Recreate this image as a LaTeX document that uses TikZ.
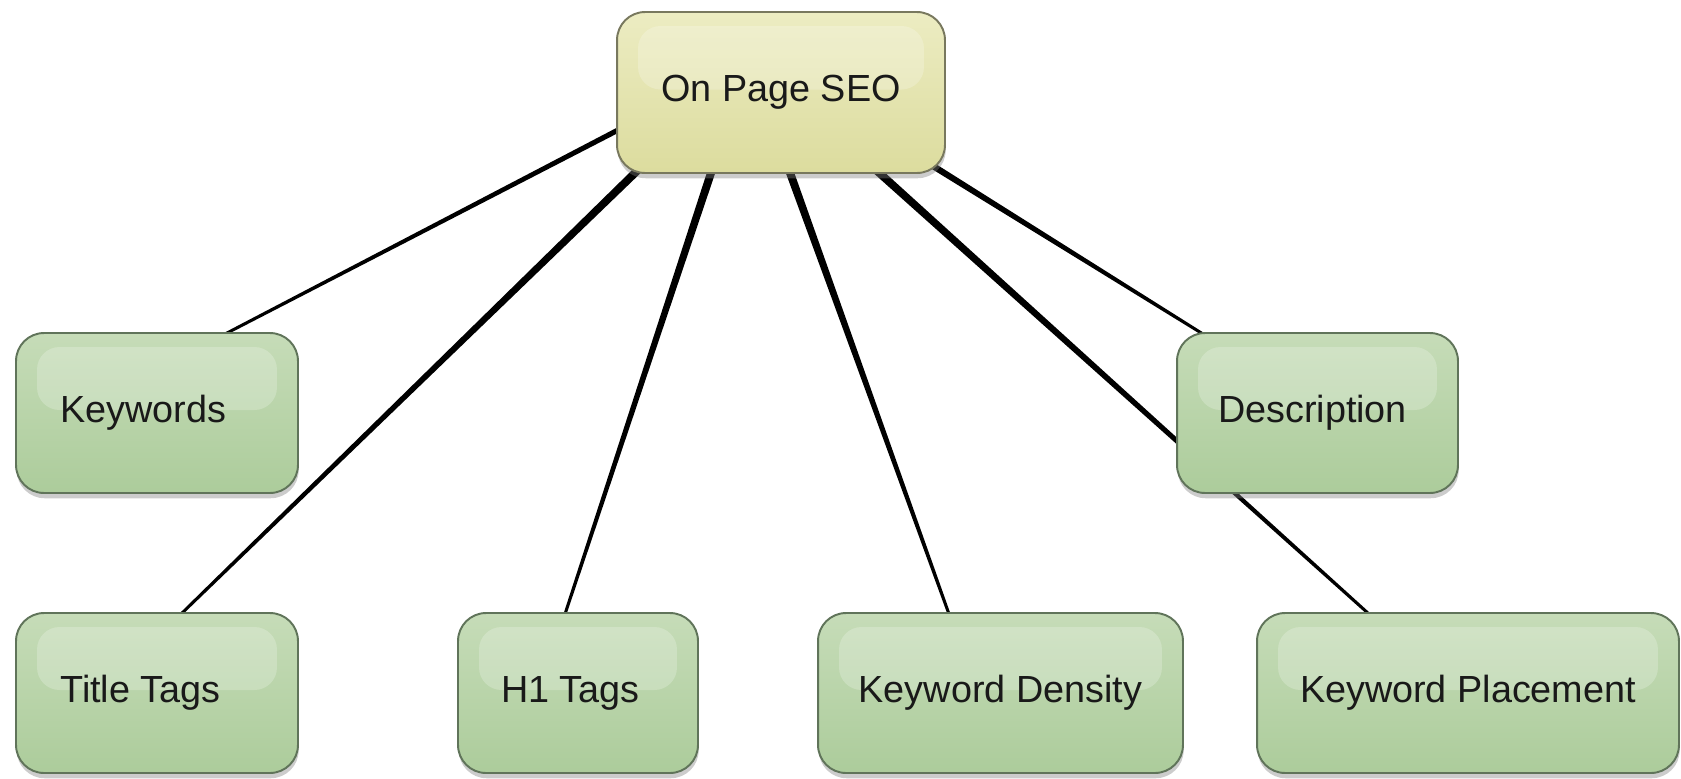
\documentclass[tikz,border=0pt]{standalone}
\usepackage{fontspec}
\setmainfont{Liberation Sans}
\usetikzlibrary{calc}
\usetikzlibrary{shadows}
\usetikzlibrary{backgrounds}
\definecolor{c1}{RGB}{96,116,90}
\definecolor{c2}{RGB}{198,220,184}
\definecolor{c3}{RGB}{172,204,155}
\definecolor{c4}{RGB}{236,236,194}
\definecolor{c5}{RGB}{220,220,158}
\definecolor{c6}{RGB}{120,120,94}

% tapered branch: thick at the main topic, thin at the sub topic
\newcommand{\branchline}[3][2.3pt]{%
  \fill[black] ($(#2)!#1!90:(#3)$) -- ($(#3)!0.85pt!-90:(#2)$)
    -- ($(#3)!0.85pt!90:(#2)$) -- ($(#2)!#1!-90:(#3)$) -- cycle;}
% trailing room so the text sits a little left of centre
\newcommand{\padr}[1]{\hspace{#1}\null}

\tikzset{
  topic/.style={draw=c1, line width=1.1pt, rounded corners=0.56cm, top color=c2, bottom color=c3,
    minimum height=3.2cm, inner sep=0pt, text=black!90,
    font=\fontsize{21.5}{25}\selectfont,
    drop shadow={shadow xshift=0.4pt, shadow yshift=-3pt, opacity=0.4},
    path picture={\fill[white, opacity=0.22, rounded corners=0.45cm]
      ($(path picture bounding box.north west)+(21,14)$) rectangle
      ($(path picture bounding box.east)+(-21,-3)$);}},
  central/.style={topic, draw=c6, top color=c4, bottom color=c5, minimum height=3.22cm}
}

\begin{document}
\begin{tikzpicture}[x=0.02cm,y=-0.02cm]
    \useasboundingbox (0,0) rectangle (1681,778);
    % main topic
    \node[central, minimum width=6.56cm] (seo) at (781,92.5) {On Page SEO};
    % first row
    \node[topic, minimum width=5.64cm] (kw) at (157,413) {Keywords\padr{0.56cm}};
    \node[topic, minimum width=5.62cm] (desc) at (1317.5,413) {Description\padr{0.2cm}};
    % second row
    \node[topic, minimum width=5.64cm] (title) at (157,693) {Title Tags\padr{0.66cm}};
    \node[topic, minimum width=4.8cm] (h1) at (578,693) {H1 Tags\padr{0.3cm}};
    \node[topic, minimum width=7.3cm] (kd) at (1000.5,693) {Keyword Density};
    \node[topic, minimum width=8.44cm] (kp) at (1468,693) {Keyword Placement};

    % where the branches leave the main topic
    \coordinate (s1) at ($(seo.west)+(4,36.5)$);
    \coordinate (s2) at ($(seo.south west)+(22,-4)$);
    \coordinate (s3) at ($(seo.south)+(-69,-4)$);
    \coordinate (s4) at ($(seo.south)+(8,-4)$);
    \coordinate (s5) at ($(seo.south)+(95,-4)$);
    \coordinate (s6) at ($(seo.south east)+(-13,-8)$);
    % and where they end
    \coordinate (e1) at ($(kw.north)+(68,2)$);
    \coordinate (e2) at ($(title.north)+(24,2)$);
    \coordinate (e3) at ($(h1.north)+(-13,2)$);
    \coordinate (e4) at ($(kd.north)+(-51.5,2)$);
    \coordinate (e5) at ($(kp.north)+(-99,2)$);
    \coordinate (e6) at ($(desc.north)+(-114.5,2)$);

    % branches go under the boxes (the one to kp passes behind desc)
    \begin{scope}[on background layer]
        \branchline[1.5pt]{s1}{e1}
        \branchline{s2}{e2}
        \branchline{s3}{e3}
        \branchline{s4}{e4}
        \branchline{s5}{e5}
        \branchline[1.8pt]{s6}{e6}
    \end{scope}
\end{tikzpicture}
\end{document}
